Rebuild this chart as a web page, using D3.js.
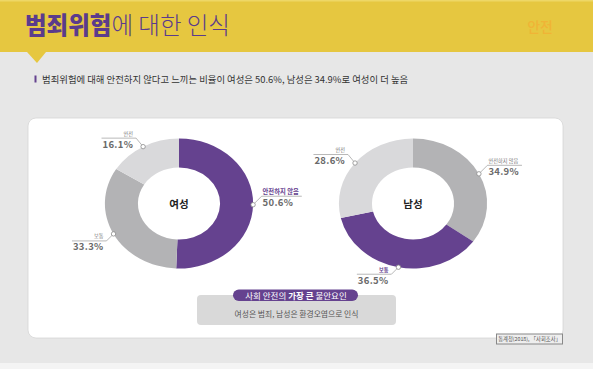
<!DOCTYPE html>
<html><head><meta charset="utf-8">
<script src="https://cdn.jsdelivr.net/npm/d3@7"></script>
<style>html,body{margin:0;padding:0;background:#fff;}svg{display:block;font-family:"Noto Sans CJK KR","Noto Sans",sans-serif;}</style>
</head><body>
<script>
const titleBold = "범죄위험";
const titleRest = "에 대한 인식";
const tagText = "안전";
const subtitle = "범죄위험에 대해 안전하지 않다고 느끼는 비율이 여성은 50.6%, 남성은 34.9%로 여성이 더 높음";
const categories = ["안전하지 않음", "보통", "안전"];
const groups = ["여성", "남성"];
const femaleValues = [50.6, 33.3, 16.1];
const maleValues = [34.9, 36.5, 28.6];
const pillParts = [["사회 안전의 ", false], ["가장 큰", true], [" 불안요인", false]];
const noteText = "여성은 범죄, 남성은 환경오염으로 인식";
const sourceText = "통계청(2018), 「사회조사」";

const W = 593, H = 369;
const purple = "#65428f", dark = "#b3b3b5", light = "#d9d9db";
const svg = d3.select("body").append("svg").attr("width", W).attr("height", H);

// backgrounds
svg.append("rect").attr("width", W).attr("height", H).attr("fill", "#f4f4f4");
svg.append("rect").attr("y", 52).attr("width", W).attr("height", 311).attr("fill", "#e7e7e7");
svg.append("rect").attr("width", W).attr("height", 52).attr("fill", "#e6c740");
svg.append("rect").attr("width", W).attr("height", 1.5).attr("fill", "#eed766");
svg.append("path").attr("d", "M27,52 L46,52 L37,63 Z").attr("fill", "#e6c740");

// title
const t = svg.append("text").attr("x", 25).attr("y", 34).attr("font-size", 23.5).attr("fill", "#5b3b8c");
t.append("tspan").attr("font-weight", 900).text(titleBold);
t.append("tspan").attr("font-weight", 300).text(titleRest);
svg.append("text").attr("x", 553).attr("y", 32).attr("text-anchor", "end").attr("font-size", 14).attr("font-weight", 500).attr("fill", "#f0b436").text(tagText);

// subtitle
svg.append("rect").attr("x", 34.5).attr("y", 75.5).attr("width", 2).attr("height", 7).attr("fill", "#65428f");
svg.append("text").attr("x", 42).attr("y", 82.5).attr("font-size", 9.4).attr("fill", "#333").text(subtitle);

// panel
svg.append("rect").attr("x", 28).attr("y", 118).attr("width", 535).attr("height", 220).attr("rx", 8)
  .attr("fill", "#fff").attr("stroke", "#d6d6d6").attr("stroke-width", 0.8);

// donuts
const R = 65, r = 36, sx = 1.14;
const pie = d3.pie().sort(null).value(d => d);
const arc = d3.arc().innerRadius(r).outerRadius(R);
const centers = [[179, 203.5], [413, 203.5]];
[femaleValues, maleValues].forEach((vals, gi) => {
  const [cx, cy] = centers[gi];
  const ranked = vals.slice().sort((a, b) => b - a);
  const colorOf = v => v === ranked[0] ? purple : (v === ranked[1] ? dark : light);
  const arcs = pie(vals);
  const g = svg.append("g").attr("transform", `translate(${cx},${cy}) scale(${sx},1)`);
  g.selectAll("path").data(arcs).join("path").attr("d", arc).attr("fill", d => colorOf(d.data));
  svg.append("text").attr("x", cx).attr("y", cy + 4).attr("text-anchor", "middle")
    .attr("font-size", 10.5).attr("font-weight", 700).attr("fill", "#222").text(groups[gi]);

  arcs.forEach((d, i) => {
    const a = (d.startAngle + d.endAngle) / 2;
    const px = cx + R * sx * Math.sin(a), py = cy - R * Math.cos(a);
    const right = Math.sin(a) > 0;
    const down = Math.cos(a) < -0.2;
    const ex = px + (right ? 8.5 : -7), ey = py + (down ? 7 : -8.5);
    const hi = colorOf(d.data) === purple;
    const lab = svg.append("g");
    const anchor = right ? "start" : "end";
    const tx = right ? ex + 1 : ex - 3;
    const cat = lab.append("text").attr("x", tx).attr("y", ey - 2.5).attr("text-anchor", anchor)
      .attr("font-size", hi && gi === 0 ? 6.3 : 5.2).attr("font-weight", hi ? 700 : 400)
      .attr("fill", hi ? purple : "#777").text(categories[i]);
    const val = lab.append("text").attr("x", tx).attr("y", ey + 9.5).attr("text-anchor", anchor)
      .attr("font-size", 9.5).attr("font-weight", 700).attr("fill", "#6a6a6a").attr("letter-spacing", 0.3)
      .text(d3.format(".1f")(d.data) + "%");
    const len = Math.max(cat.node().getComputedTextLength(), val.node().getComputedTextLength()) + 4;
    const hx = right ? ex + len : ex - len;
    lab.insert("path", "text").attr("d", `M${px},${py} L${ex},${ey} L${hx},${ey}`)
      .attr("fill", "none").attr("stroke", "#9a9a9a").attr("stroke-width", 0.7);
    lab.append("circle").attr("cx", px).attr("cy", py).attr("r", 2.2)
      .attr("fill", "#fff").attr("stroke", "#8a8a8a").attr("stroke-width", 0.8);
  });
});

// bottom note
svg.append("rect").attr("x", 197).attr("y", 295).attr("width", 199).attr("height", 30).attr("rx", 4).attr("fill", "#d9d9d9");
svg.append("rect").attr("x", 233).attr("y", 289.5).attr("width", 125).attr("height", 11.5).attr("rx", 5.75).attr("fill", purple);
const pt = svg.append("text").attr("x", 296).attr("y", 298.5).attr("text-anchor", "middle").attr("font-size", 8.5).attr("fill", "#fff");
pillParts.forEach(([s, b]) => pt.append("tspan").attr("font-weight", b ? 700 : 400).text(s));
svg.append("text").attr("x", 296.5).attr("y", 316.5).attr("text-anchor", "middle").attr("font-size", 7.8).attr("fill", "#555").text(noteText);

// source
svg.append("rect").attr("x", 496.5).attr("y", 334).attr("width", 66).attr("height", 10).attr("fill", "#eee").attr("stroke", "#888").attr("stroke-width", 1);
svg.append("text").attr("x", 529.5).attr("y", 341.3).attr("text-anchor", "middle").attr("font-size", 5.3).attr("fill", "#555").text(sourceText);
</script>
</body></html>
